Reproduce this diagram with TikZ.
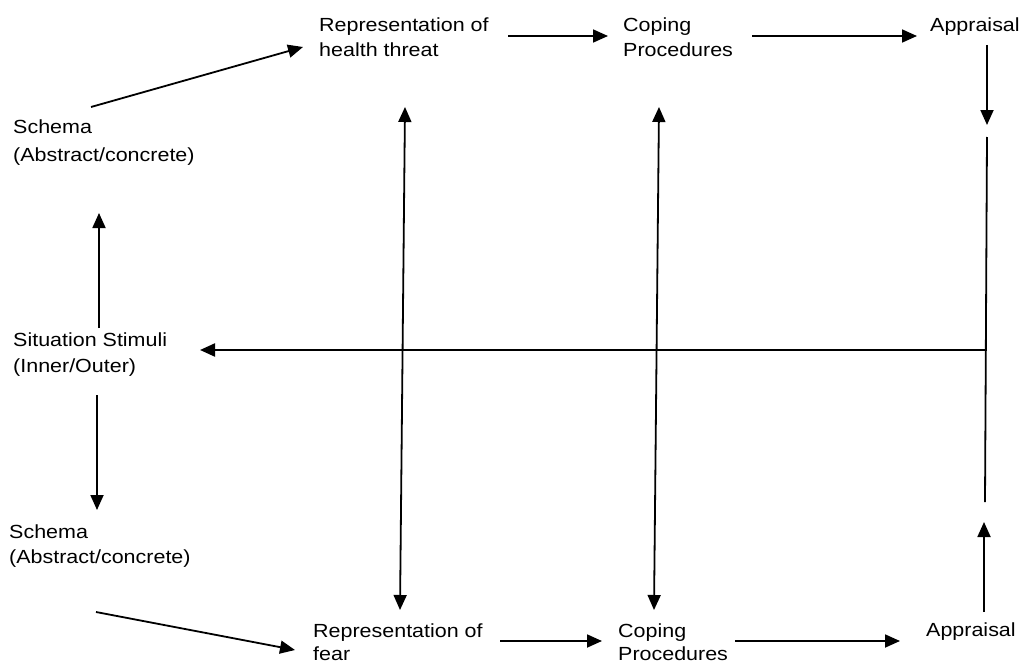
\documentclass[tikz,border=0pt]{standalone}
\usepackage{fontspec}
\setmainfont{Liberation Sans}[FakeStretch=1.13]
\usetikzlibrary{arrows.meta}
\newcommand\twoline[3][0pt]{\begin{tabular}[t]{@{}l@{}}#2\\[#1]#3\end{tabular}}
\begin{document}
\begin{tikzpicture}[x=1pt,y=-1pt,
  lbl/.style={anchor=base west,inner sep=0pt,font=\fontsize{19}{25}\selectfont},
  tip/.tip={Triangle[length=15pt,width=13pt]},
  conn/.style={line width=1.8pt,-tip},
  twoway/.style={line width=1.8pt,tip-tip},
  plain/.style={line width=1.8pt}]
\useasboundingbox (0,0) rectangle (1023,669);
% nodes
\node[lbl] (s1) at (13,133) {\twoline[3pt]{Schema}{(Abstract/concrete)}};
\node[lbl] (st) at (13,346) {\twoline[1pt]{Situation Stimuli}{(Inner/Outer)}};
\node[lbl] (s2) at (9,538) {\twoline{Schema}{(Abstract/concrete)}};
\node[lbl] (rh) at (319,32) {\twoline{Representation of}{health threat}};
\node[lbl] (cp1) at (623,32) {\twoline{Coping}{Procedures}};
\node[lbl] (ap1) at (930,32) {Appraisal};
\node[lbl] (rf) at (313,637) {\twoline[-2pt]{Representation of}{fear}};
\node[lbl] (cp2) at (618,637) {\twoline[-2pt]{Coping}{Procedures}};
\node[lbl] (ap2) at (926,636) {Appraisal};
% connector end points
\coordinate (s1a) at (91,107);  \coordinate (rha) at (303,47);
\coordinate (sta) at (99,328);  \coordinate (s1b) at (99,213);
\coordinate (stb) at (97,395);  \coordinate (s2a) at (97,510);
\coordinate (s2b) at (96,612);  \coordinate (rfa) at (295,650);
\coordinate (rhb) at (508,36);  \coordinate (cp1a) at (608,36);
\coordinate (cp1b) at (752,36); \coordinate (ap1a) at (917,36);
\coordinate (rfb) at (500,641); \coordinate (cp2a) at (602,641);
\coordinate (cp2b) at (735,641);\coordinate (ap2a) at (900,641);
\coordinate (rhc) at (405,107); \coordinate (rfc) at (400,610);
\coordinate (cp1c) at (659,107);\coordinate (cp2c) at (654,610);
\coordinate (ap1b) at (987,45); \coordinate (ap1c) at (987,125);
\coordinate (r1) at (987,137);  \coordinate (r2) at (987,350);
\coordinate (r3) at (985,502);  \coordinate (stc) at (200,350);
\coordinate (ap2b) at (984,612);\coordinate (ap2c) at (984,522);
% connectors
\draw[conn] (s1a) -- (rha);
\draw[conn] (sta) -- (s1b);
\draw[conn] (stb) -- (s2a);
\draw[conn] (s2b) -- (rfa);
\draw[conn] (rhb) -- (cp1a);
\draw[conn] (cp1b) -- (ap1a);
\draw[conn] (rfb) -- (cp2a);
\draw[conn] (cp2b) -- (ap2a);
\draw[twoway] (rhc) -- (rfc);
\draw[twoway] (cp1c) -- (cp2c);
\draw[conn] (ap1b) -- (ap1c);
\draw[plain] (r1) -- (r3);
\draw[conn,line width=2.2pt] (r2) -- (stc);
\draw[conn] (ap2b) -- (ap2c);
\end{tikzpicture}
\end{document}
